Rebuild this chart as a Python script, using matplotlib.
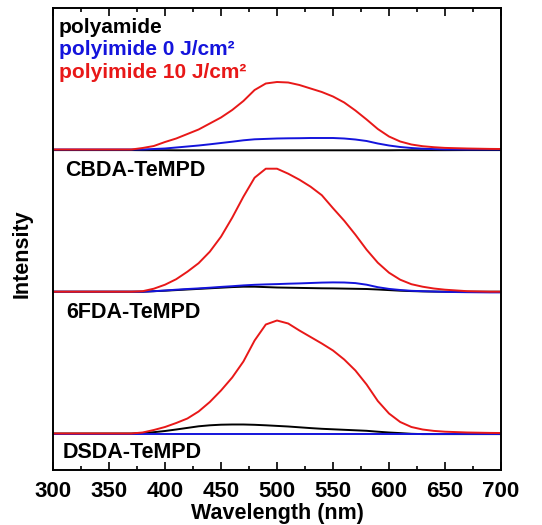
import matplotlib
matplotlib.use("Agg")
import matplotlib.pyplot as plt

plt.rcParams['font.family'] = ['Liberation Sans', 'DejaVu Sans']
plt.rcParams['font.weight'] = 'bold'

# wavelength grid (nm)
wavelength = [300, 320, 340, 360, 370, 380, 390, 400, 410, 420, 430, 440, 450, 460,
              470, 480, 490, 500, 510, 520, 530, 540, 550, 560, 570, 580, 590, 600,
              610, 620, 630, 640, 650, 670, 690, 700]

# top group (polyamide / polyimide 0 / polyimide 10)
top_black = [-0.6, -0.6, -0.6, -0.6, -0.6, -0.7, -0.7, -0.7, -0.8, -0.8, -0.8, -0.8, -0.8, -0.8,
             -0.8, -0.8, -0.8, -0.8, -0.8, -0.8, -0.8, -0.8, -0.8, -0.8, -0.8, -0.8, -0.8, -0.8,
             -0.7, -0.7, -0.7, -0.7, -0.7, -0.6, -0.6, -0.6]
top_blue = [0, 0, 0, 0, 0, 0, 0.5, 1, 2, 3, 4, 5.2, 6.5, 7.8,
            9.2, 10.2, 10.6, 11, 11.2, 11.3, 11.5, 11.5, 11.5, 11, 10, 8.5, 6, 4,
            2.5, 1.5, 0.8, 0.4, 0.1, 0, 0, 0]
top_red = [0, 0, 0, 0, 0, 1.5, 3.5, 7.5, 11, 15.5, 20, 26, 32, 39.5,
           48.5, 59.5, 66, 67.5, 67, 64.5, 61, 57.5, 53, 47, 39, 30, 20.5, 13,
           8, 5, 3.3, 2.3, 1.6, 1, 0.6, 0.5]

# middle group
mid_black = [0, 0, 0, 0, 0, 0, 0.5, 1, 1.6, 2.2, 2.8, 3.4, 4, 4.6,
             5, 5, 4.6, 4.2, 4, 3.8, 3.6, 3.4, 3.3, 3.1, 2.9, 2.7, 2.2, 1.6,
             1, 0.6, 0.3, 0.1, 0, 0, 0, 0]
mid_blue = [0, 0, 0, 0, 0, 0, 0.5, 1.2, 2, 2.7, 3.3, 4, 4.8, 5.5,
            6.3, 6.9, 7.3, 7.6, 8, 8.3, 8.7, 9.1, 9.3, 9.2, 8.6, 7, 4.5, 2.8,
            1.7, 0.9, 0.5, 0.2, -0.2, -0.5, -0.7, -0.7]
mid_red = [0, 0, 0, 0, 0, 0.5, 3, 7, 12.5, 20, 28.5, 40, 55, 74,
           95, 114, 123, 123, 118, 112, 105, 96.5, 83.5, 71, 57, 42, 29, 19,
           12, 7.5, 5, 3.2, 2, 0.5, 0, 0]

# bottom group
bot_black = [0, 0, 0, 0, 0, 0.5, 1.3, 2.5, 4, 5.6, 7.2, 8.2, 8.8, 9,
             9, 8.7, 8.2, 7.6, 7, 6.2, 5.4, 4.7, 4.2, 3.7, 3.2, 2.7, 1.8, 1,
             0.4, -0.3, -0.6, -0.6, -0.6, -0.6, -0.6, -0.6]
bot_blue = [-0.8, -0.8, -0.8, -0.8, -0.8, -0.8, -0.8, -0.8, -0.8, -0.8, -0.8, -0.8, -0.8, -0.8,
            -0.8, -0.8, -0.8, -0.8, -0.8, -0.8, -0.8, -0.8, -0.8, -0.8, -0.8, -0.8, -0.8, -0.8,
            -0.8, -0.8, -0.8, -0.8, -0.8, -0.8, -0.8, -0.8]
bot_red = [0, 0, 0, 0, 0, 1, 3.5, 6.5, 10.5, 15, 22, 31.5, 43, 56,
           72, 93, 109, 113, 110, 103, 96.5, 90, 83, 74, 63, 49, 32.5, 20,
           11.5, 6.5, 4, 2.6, 1.8, 1, 0.6, 0.5]

# vertical offsets of the stacked groups
offsets = [320.5, 178.3, 36.5]
groups = [(top_black, top_blue, top_red), (mid_black, mid_blue, mid_red), (bot_black, bot_blue, bot_red)]
group_labels = ["CBDA-TeMPD", "6FDA-TeMPD", "DSDA-TeMPD"]
legend_labels = ["polyamide", "polyimide 0 J/cm\u00b2", "polyimide 10 J/cm\u00b2"]
colors = ["black", "#1414dc", "#e81818"]

fig = plt.figure(figsize=(5.42, 5.25), dpi=100)
ax = fig.add_axes([53 / 542, 55 / 525, 448 / 542, 462 / 525])

for off, grp in zip(offsets, groups):
    for vals, c in zip(grp, colors):
        ax.plot(wavelength, [v + off for v in vals], color=c, lw=1.4,
                solid_joinstyle='round')

ax.set_xlim(300, 700)
ax.set_ylim(0, 462)
ax.set_xticks(range(300, 701, 50))
ax.set_xticks(range(325, 700, 50), minor=True)
ax.set_yticks([])
ax.tick_params(axis='x', which='both', direction='in', top=True, width=1.2)
ax.tick_params(axis='x', which='major', length=6, labelsize=16, pad=8)
ax.tick_params(axis='x', which='minor', length=3)
for s in ax.spines.values():
    s.set_linewidth(1.4)

ax.set_xlabel("Wavelength (nm)", fontsize=15.5, fontweight='bold', labelpad=1)
fig.text(22 / 542, 1 - 254 / 525, "Intensity", rotation=90, fontsize=15.5,
         fontweight='bold', ha='center', va='center')

legend_y = [0.946, 0.898, 0.849]
for txt, c, y in zip(legend_labels, colors, legend_y):
    ax.text(0.013, y, txt, color=c, fontsize=15, fontweight='bold',
            transform=ax.transAxes, va='baseline')

label_pos = [(0.027, 0.637), (0.029, 0.328), (0.022, 0.026)]
for txt, (x, y) in zip(group_labels, label_pos):
    ax.text(x, y, txt, color='black', fontsize=15.5, fontweight='bold',
            transform=ax.transAxes, va='baseline')

fig.savefig("out.png", dpi=100)
